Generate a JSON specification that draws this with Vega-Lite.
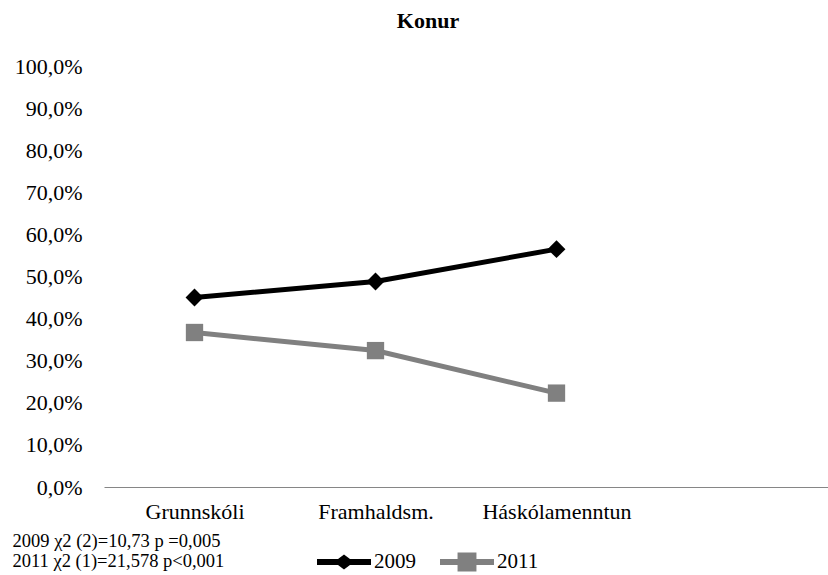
{
  "$schema": "https://vega.github.io/schema/vega-lite/v6.json",
  "width": 724,
  "height": 421,
  "autosize": {"type": "none"},
  "padding": {"left": 104, "top": 66, "right": 0, "bottom": 88},
  "background": "white",
  "title": {
    "text": "Konur",
    "anchor": "middle",
    "dx": -38,
    "offset": 22,
    "font": "Liberation Serif",
    "fontSize": 22,
    "fontWeight": "bold",
    "color": "#000000"
  },
  "data": {
    "values": [
      {"level": "Grunnskóli", "year": "2009", "value": 0.450},
      {"level": "Framhaldsm.", "year": "2009", "value": 0.488},
      {"level": "Háskólamenntun", "year": "2009", "value": 0.565},
      {"level": "Grunnskóli", "year": "2011", "value": 0.367},
      {"level": "Framhaldsm.", "year": "2011", "value": 0.324},
      {"level": "Háskólamenntun", "year": "2011", "value": 0.223}
    ]
  },
  "encoding": {
    "x": {
      "field": "level",
      "type": "nominal",
      "sort": null,
      "scale": {"type": "point", "domain": ["Grunnskóli", "Framhaldsm.", "Háskólamenntun", " "], "padding": 0.5},
      "axis": {
        "title": ["2009 χ2 (2)=10,73  p =0,005", "2011 χ2 (1)=21,578  p<0,001"],
        "titleFont": "Liberation Serif",
        "titleFontSize": 18.5,
        "titleFontWeight": "normal",
        "titleColor": "#000000",
        "titleAlign": "left",
        "titleBaseline": "alphabetic",
        "titleLineHeight": 20,
        "titleX": -92,
        "titleY": 59,
        "labelAngle": 0,
        "labelFont": "Liberation Serif",
        "labelFontSize": 22,
        "labelColor": "#000000",
        "labelPadding": 14,
        "ticks": false,
        "domainColor": "#868686",
        "domainWidth": 1,
        "grid": false
      }
    },
    "y": {
      "field": "value",
      "type": "quantitative",
      "scale": {"domain": [0, 1], "nice": false},
      "axis": {
        "title": null,
        "values": [0, 0.1, 0.2, 0.3, 0.4, 0.5, 0.6, 0.7, 0.8, 0.9, 1],
        "labelExpr": "replace(format(datum.value, '.1%'), '.', ',')",
        "labelFont": "Liberation Serif",
        "labelFontSize": 22,
        "labelColor": "#000000",
        "labelPadding": 22,
        "ticks": false,
        "domain": false,
        "grid": false
      }
    },
    "color": {
      "field": "year",
      "type": "nominal",
      "scale": {"domain": ["2009", "2011"], "range": ["#000000", "#808080"]},
      "legend": {
        "title": null,
        "orient": "none",
        "direction": "horizontal",
        "legendX": 213,
        "legendY": 469,
        "padding": 0,
        "symbolSize": 2916,
        "labelFont": "Liberation Serif",
        "labelFontSize": 21,
        "labelColor": "#000000",
        "labelOffset": 3,
        "columnPadding": 24,
        "encode": {
          "symbols": {
            "update": {
              "shape": {"signal": "datum.value == '2009' ? 'M-1,-0.11L1,-0.11L1,0.11L-1,0.11Z M0,-0.28L0.37,0L0,0.28L-0.37,0Z' : 'M-1,-0.11L1,-0.11L1,0.11L-1,0.11Z M-0.35,-0.35L0.35,-0.35L0.35,0.35L-0.35,0.35Z'"},
              "fill": {"signal": "datum.value == '2009' ? '#000000' : '#808080'"},
              "fillOpacity": {"value": 1},
              "strokeWidth": {"value": 0},
              "opacity": {"value": 1}
            }
          }
        }
      }
    }
  },
  "layer": [
    {
      "mark": {"type": "line", "strokeWidth": 5}
    },
    {
      "transform": [{"filter": "datum.year == '2009'"}],
      "mark": {"type": "point", "filled": true, "opacity": 1, "size": 320, "shape": "diamond"}
    },
    {
      "transform": [{"filter": "datum.year == '2011'"}],
      "mark": {"type": "point", "filled": true, "opacity": 1, "size": 300, "shape": "square"}
    }
  ],
  "config": {
    "view": {"stroke": null},
    "font": "Liberation Serif"
  }
}
